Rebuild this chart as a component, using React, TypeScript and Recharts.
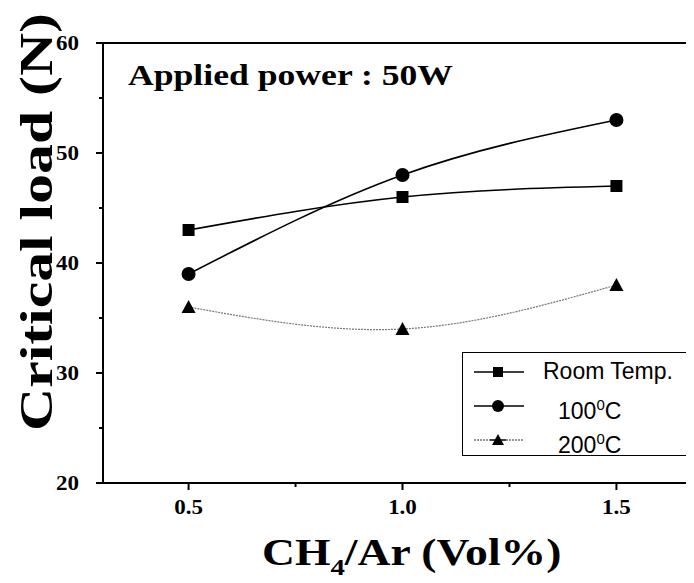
import React from "react";
import { LineChart, Line, XAxis, YAxis, Legend, ReferenceLine } from "recharts";

// CH4/Ar ratio (Vol%)
const ratios = [0.5, 1.0, 1.5];
// critical load (N) per substrate temperature
const roomTemp = [43, 46, 47];
const temp100 = [39, 48, 53];
const temp200 = [36, 34, 38];

const xTicks = [0.5, 0.75, 1.0, 1.25, 1.5];
const xLabels = [0.5, 1.0, 1.5];
const yTicks = [20, 25, 30, 35, 40, 45, 50, 55, 60];
const yLabels = [20, 30, 40, 50, 60];

const data = ratios.map((r, i) => ({
  ratio: r,
  room: roomTemp[i],
  t100: temp100[i],
  t200: temp200[i],
}));

const SERIF = "'Liberation Serif', 'Times New Roman', serif";
const SANS = "'Liberation Sans', Arial, sans-serif";
const TS = 6;
const TM = 4;

const XTick = (props: any) => {
  const { x, y, payload } = props;
  const axisY = y - TS - TM;
  const major = xLabels.includes(payload.value);
  return (
    <g>
      <line x1={x} x2={x} y1={axisY} y2={axisY + (major ? 7 : 4)} stroke="#000" strokeWidth={2} />
      {major && (
        <text
          transform={`translate(${x},${axisY + 31}) scale(1.15,1)`}
          textAnchor="middle"
          fontFamily={SERIF}
          fontWeight="bold"
          fontSize={20}
          fill="#000"
        >
          {payload.value.toFixed(1)}
        </text>
      )}
    </g>
  );
};

const YTick = (props: any) => {
  const { x, y, payload } = props;
  const axisX = x + TS + TM;
  const major = yLabels.includes(payload.value);
  return (
    <g>
      <line x1={axisX} x2={axisX - (major ? 7 : 4)} y1={y} y2={y} stroke="#000" strokeWidth={2} />
      {major && (
        <text
          transform={`translate(${axisX - 24},${y + 7}) scale(1.15,1)`}
          textAnchor="end"
          fontFamily={SERIF}
          fontWeight="bold"
          fontSize={20}
          fill="#000"
        >
          {payload.value}
        </text>
      )}
    </g>
  );
};

const Square = (props: any) => {
  const { cx, cy } = props;
  return <rect x={cx - 6} y={cy - 6} width={12} height={12} fill="#000" />;
};
const Circle = (props: any) => {
  const { cx, cy } = props;
  return <circle cx={cx} cy={cy} r={7} fill="#000" />;
};
const Triangle = (props: any) => {
  const { cx, cy } = props;
  return <path d={`M${cx},${cy - 7} L${cx + 7},${cy + 6} L${cx - 7},${cy + 6} Z`} fill="#000" />;
};

const legendItems = [
  { label: <>Room Temp.</>, shape: "square", dash: false, indent: 80 },
  { label: <>100<sup style={{ fontSize: 15 }}>0</sup>C</>, shape: "circle", dash: false, indent: 95 },
  { label: <>200<sup style={{ fontSize: 15 }}>0</sup>C</>, shape: "triangle", dash: true, indent: 95 },
];

const renderLegend = () => (
  <div
    style={{
      position: "relative",
      boxSizing: "border-box",
      width: 226,
      height: 104,
      border: "1.5px solid #000",
      background: "#fff",
      fontFamily: SANS,
      fontSize: 23,
      color: "#000",
    }}
  >
    {legendItems.map((it, i) => (
      <div key={i} style={{ position: "absolute", top: 4 + i * 34, left: 0, height: 30, width: 223 }}>
        <svg width={54} height={20} style={{ position: "absolute", left: 11, top: 5 }}>
          <line x1={0} x2={16} y1={10} y2={10} stroke={it.dash ? "#777" : "#000"} strokeWidth={1.5}
            strokeDasharray={it.dash ? "2 1" : undefined} />
          <line x1={32} x2={50} y1={10} y2={10} stroke={it.dash ? "#777" : "#000"} strokeWidth={1.5}
            strokeDasharray={it.dash ? "2 1" : undefined} />
          <line x1={16} x2={32} y1={10} y2={10} stroke="#000" strokeWidth={1.5} />
          {it.shape === "square" && <rect x={19} y={5} width={10} height={10} fill="#000" />}
          {it.shape === "circle" && <circle cx={24} cy={10} r={6} fill="#000" />}
          {it.shape === "triangle" && <path d="M24,4 L30,15 L18,15 Z" fill="#000" />}
        </svg>
        <span style={{ position: "absolute", left: it.indent, top: 0, lineHeight: "28px", whiteSpace: "nowrap" }}>
          {it.label}
        </span>
      </div>
    ))}
  </div>
);

export default function App() {
  return (
    <div
      style={{
        position: "relative",
        width: 686,
        height: 575,
        marginBottom: -8,
        overflow: "hidden",
        background: "#fff",
      }}
    >
      <LineChart width={720} height={575} data={data} margin={{ top: 35, right: 26, left: 45, bottom: 70 }}>
        <XAxis
          dataKey="ratio"
          type="number"
          domain={[0.3, 1.7]}
          ticks={xTicks}
          tick={<XTick />}
          tickLine={false}
          tickSize={TS}
          tickMargin={TM}
          height={30}
          axisLine={{ stroke: "#000", strokeWidth: 2 }}
          allowDataOverflow
        />
        <YAxis
          type="number"
          domain={[20, 60]}
          ticks={yTicks}
          tick={<YTick />}
          tickLine={false}
          tickSize={TS}
          tickMargin={TM}
          width={50}
          axisLine={{ stroke: "#000", strokeWidth: 2 }}
          allowDataOverflow
        />
        <ReferenceLine y={60} stroke="#000" strokeWidth={2} />
        <ReferenceLine x={1.7} stroke="#000" strokeWidth={2} />
        <Legend
          layout="vertical"
          align="center"
          verticalAlign="middle"
          content={renderLegend}
          wrapperStyle={{ left: 454, top: 344, width: 226, height: 104 }}
        />
        <Line
          dataKey="t200"
          type="natural"
          stroke="#777"
          strokeWidth={1.2}
          strokeDasharray="2 1"
          dot={<Triangle />}
          isAnimationActive={false}
        />
        <Line dataKey="room" type="natural" stroke="#000" strokeWidth={1.6} dot={<Square />} isAnimationActive={false} />
        <Line dataKey="t100" type="natural" stroke="#000" strokeWidth={1.6} dot={<Circle />} isAnimationActive={false} />
      </LineChart>
      <svg width={686} height={575} style={{ position: "absolute", left: 0, top: 0, pointerEvents: "none" }}>
        <text
          x={120}
          y={77}
          fontFamily={SERIF}
          fontWeight="bold"
          fontSize={29}
          fill="#000"
          textLength={325}
          lengthAdjust="spacingAndGlyphs"
        >
          Applied power : 50W
        </text>
        <text
          transform="translate(44,214) rotate(-90)"
          textAnchor="middle"
          fontFamily={SERIF}
          fontWeight="bold"
          fontSize={47}
          fill="#000"
          textLength={418}
          lengthAdjust="spacingAndGlyphs"
        >
          Critical load (N)
        </text>
        <text
          transform="translate(254,557) scale(1.2,1)"
          fontFamily={SERIF}
          fontWeight="bold"
          fontSize={38}
          fill="#000"
        >
          CH
          <tspan fontSize={24} dy={10}>4</tspan>
          <tspan dy={-10}>/Ar (Vol%)</tspan>
        </text>
      </svg>
    </div>
  );
}
